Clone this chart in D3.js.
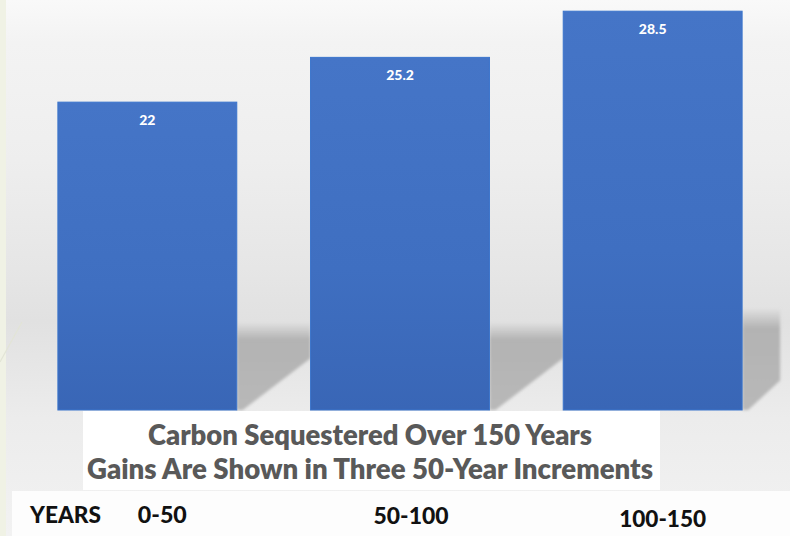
<!DOCTYPE html>
<html>
<head>
<meta charset="utf-8">
<script src="https://cdn.jsdelivr.net/npm/d3@7"></script>
<style>
  html, body { margin: 0; padding: 0; background: #f2f2f2; }
  svg { display: block; }
</style>
</head>
<body>
<svg id="chart" width="790" height="536"></svg>
<script>
// ---- data ----
const categories = ["0-50", "50-100", "100-150"];
const values = [22, 25.2, 28.5];
const valueLabels = ["22", "25.2", "28.5"];
const titleLines = ["Carbon Sequestered Over 150 Years", "Gains Are Shown in Three 50-Year Increments"];
const axisName = "YEARS";

// ---- layout ----
const W = 790, H = 536;
const baseY = 410;
const svg = d3.select("#chart");
const defs = svg.append("defs");

const x = d3.scaleBand().domain(categories).range([21, 779]).paddingInner(0.292).paddingOuter(0.146);
const y = d3.scaleLinear().domain([0, 29.3]).range([baseY, 0]);

// background gradient
const bg = defs.append("linearGradient").attr("id", "bg").attr("x1", 0).attr("y1", 0).attr("x2", 0).attr("y2", 1);
[[0, "#f9f9f9"], [0.04, "#f6f6f6"], [0.08, "#f3f3f3"], [0.3, "#eeeeee"], [0.5, "#e6e6e6"], [0.6, "#e1e1e1"], [0.68, "#e6e6e6"], [0.78, "#ececec"], [1, "#f2f2f2"]]
  .forEach(([o, c]) => bg.append("stop").attr("offset", o).attr("stop-color", c));
svg.append("rect").attr("width", W).attr("height", H).attr("fill", "url(#bg)");

// left decorative strip
svg.append("rect").attr("x", 0).attr("y", 0).attr("width", 6).attr("height", H).attr("fill", "#f0f2e5");
svg.append("line").attr("x1", 0).attr("y1", 362).attr("x2", 22).attr("y2", 322)
  .attr("stroke", "#e2e4d6").attr("stroke-width", 1.2);

// bar gradient
const bgBar = defs.append("linearGradient").attr("id", "barGrad").attr("x1", 0).attr("y1", 0).attr("x2", 0).attr("y2", 1);
bgBar.append("stop").attr("offset", 0).attr("stop-color", "#4575c7");
bgBar.append("stop").attr("offset", 0.6).attr("stop-color", "#3f6fc1");
bgBar.append("stop").attr("offset", 1).attr("stop-color", "#3966b6");

// shadow gradient + blur
const sg = defs.append("linearGradient").attr("id", "shadowGrad").attr("x1", 0).attr("y1", 0).attr("x2", 0).attr("y2", 1);
sg.append("stop").attr("offset", 0).attr("stop-color", "#b3b3b3").attr("stop-opacity", 0);
sg.append("stop").attr("offset", 0.2).attr("stop-color", "#b3b3b3").attr("stop-opacity", 1);
sg.append("stop").attr("offset", 1).attr("stop-color", "#b8b8b8").attr("stop-opacity", 1);
defs.append("filter").attr("id", "blur").attr("x", "-20%").attr("y", "-20%").attr("width", "140%").attr("height", "140%")
  .append("feGaussianBlur").attr("stdDeviation", 1.6);

// shadows (floor reflection to the right of each bar)
const gap = x.step() - x.bandwidth();
svg.append("g").selectAll("path").data(categories).join("path")
  .attr("fill", "url(#shadowGrad)")
  .attr("filter", "url(#blur)")
  .attr("d", (d, i) => {
    const x0 = x(d) + x.bandwidth();
    const w = i < categories.length - 1 ? gap : 38;
    const top = i < categories.length - 1 ? 322 : 308;
    const slope = 0.62;
    return `M${x0},${top} L${x0 + w},${top} L${x0 + w},${baseY - 6 - slope * w} L${x0 + 6},${baseY} L${x0},${baseY} Z`;
  });

// bars
svg.append("g").selectAll("rect").data(values).join("rect")
  .attr("x", (d, i) => x(categories[i]))
  .attr("y", d => y(d))
  .attr("width", x.bandwidth())
  .attr("height", d => baseY - y(d))
  .attr("fill", "url(#barGrad)")
  .attr("stroke", "#3a74cc")
  .attr("stroke-width", 1);

// value labels
svg.append("g").selectAll("text").data(values).join("text")
  .attr("x", (d, i) => x(categories[i]) + x.bandwidth() / 2)
  .attr("y", d => y(d) + 23)
  .attr("text-anchor", "middle")
  .attr("font-family", "Lato, 'Open Sans', sans-serif")
  .attr("font-weight", 900)
  .attr("font-size", 14)
  .attr("fill", "#ffffff")
  .text((d, i) => valueLabels[i]);

// title box
svg.append("rect").attr("x", 83).attr("y", baseY + 1).attr("width", 577).attr("height", 79).attr("fill", "#ffffff");
// bottom label band
svg.append("rect").attr("x", 12).attr("y", 491).attr("width", 778).attr("height", 45).attr("fill", "#fdfdfd");

const titleWidths = [444, 566];
svg.append("g").selectAll("text").data(titleLines).join("text")
  .attr("x", 370)
  .attr("y", (d, i) => 445 + i * 34)
  .attr("text-anchor", "middle")
  .attr("font-family", "Lato, 'Open Sans', sans-serif")
  .attr("font-weight", 800)
  .attr("font-size", 28.5)
  .attr("fill", "#595959")
  .attr("textLength", (d, i) => titleWidths[i])
  .attr("lengthAdjust", "spacingAndGlyphs")
  .text(d => d);

// bottom category labels
const labelFont = "Lato, 'Open Sans', sans-serif";
svg.append("text").attr("x", 30).attr("y", 523)
  .attr("font-family", labelFont).attr("font-weight", 900).attr("font-size", 23)
  .attr("fill", "#111111").attr("textLength", 71).attr("lengthAdjust", "spacingAndGlyphs")
  .text(axisName);

const labelShift = [15, 11, 10];
const labelBase = [523, 524, 527];
const labelWidths = [49, 75, 87];
svg.append("g").selectAll("text").data(categories).join("text")
  .attr("x", (d, i) => x(d) + x.bandwidth() / 2 + labelShift[i])
  .attr("y", (d, i) => labelBase[i])
  .attr("text-anchor", "middle")
  .attr("font-family", labelFont)
  .attr("font-weight", 900)
  .attr("font-size", 23)
  .attr("fill", "#111111")
  .attr("textLength", (d, i) => labelWidths[i])
  .attr("lengthAdjust", "spacingAndGlyphs")
  .text(d => d);
</script>
</body>
</html>
